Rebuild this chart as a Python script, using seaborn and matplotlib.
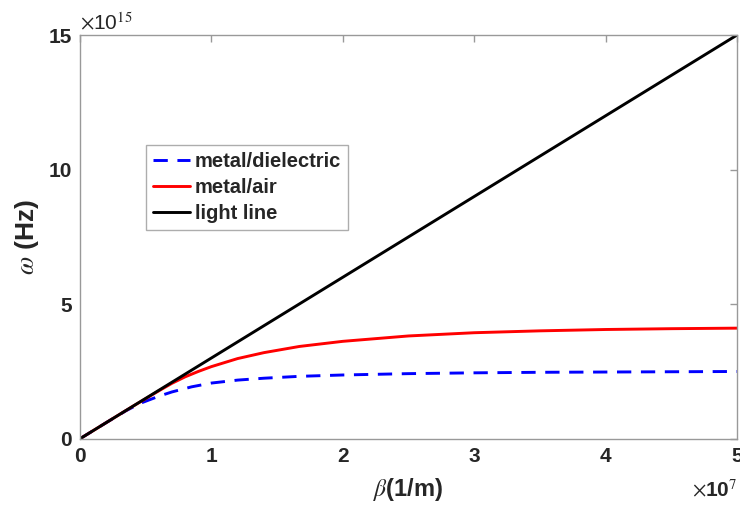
import pandas as pd
import seaborn as sns
import matplotlib.pyplot as plt

# beta in units of 1e7 (1/m), omega in units of 1e15 (Hz)
beta_md=[0,0.2,0.35,0.46,0.6,0.7,0.85,1.0,1.2,1.4,1.67,2.0,2.5,3.0,3.5,4.0,4.5,5.0]
omega_md=[0,0.6,1.04,1.32,1.58,1.74,1.93,2.07,2.18,2.25,2.32,2.37,2.42,2.45,2.47,2.48,2.49,2.5]

beta_ma=[0,0.2,0.4,0.6,0.7,0.8,0.9,1.0,1.2,1.4,1.67,2.0,2.5,3.0,3.5,4.0,4.5,5.0]
omega_ma=[0,0.6,1.2,1.78,2.06,2.3,2.5,2.68,2.98,3.2,3.43,3.62,3.82,3.94,4.01,4.06,4.09,4.11]

beta_light=[0,1,2,3,4,5]
omega_light=[0,3,6,9,12,15]

df=pd.concat([
    pd.DataFrame({'beta':beta_md,'omega':omega_md,'curve':'metal/dielectric'}),
    pd.DataFrame({'beta':beta_ma,'omega':omega_ma,'curve':'metal/air'}),
    pd.DataFrame({'beta':beta_light,'omega':omega_light,'curve':'light line'}),
])

sns.set_style('white')
plt.rcParams['font.family']=['Liberation Sans','DejaVu Sans']
plt.rcParams['mathtext.fontset']='stix'

fig=plt.figure(figsize=(7.4,5.15),dpi=100)
ax=fig.add_axes([0.108,0.148,0.888,0.784])

colors={'metal/dielectric':'#0000ff','metal/air':'#ff0000','light line':'#000000'}
sns.lineplot(data=df,x='beta',y='omega',hue='curve',style='curve',palette=colors,
             dashes={'metal/dielectric':(4.9,3.3),'metal/air':'','light line':''},
             linewidth=2.1,sort=False,estimator=None,ax=ax)

ax.set_xlim(0,5)
ax.set_ylim(0,15)
ax.set_xticks([0,1,2,3,4,5])
ax.set_yticks([0,5,10,15])
ax.tick_params(direction='in',length=5,width=1,color='#999999',top=True,right=True,
               labelsize=15,labelcolor='#262626',pad=6)
for lbl in ax.get_xticklabels()+ax.get_yticklabels():
    lbl.set_fontweight('bold')
for s in ax.spines.values():
    s.set_color('#999999')
    s.set_linewidth(1)

ax.set_xlabel(r'$\beta$(1/m)',fontsize=17,fontweight='bold',color='#262626',labelpad=7)
ax.set_ylabel(r'$\omega$ (Hz)',fontsize=19,fontweight='bold',color='#262626',labelpad=5)

ax.text(0.0,1.005,r'$\times$10$^{15}$',transform=ax.transAxes,fontsize=15,
        color='#262626',ha='left',va='bottom')
ax.text(1.0,-0.1,r'$\times$10$^{7}$',transform=ax.transAxes,fontsize=15,
        fontweight='bold',color='#262626',ha='right',va='top')

leg=ax.legend(loc='upper left',bbox_to_anchor=(0.1,0.728),fontsize=14.5,frameon=True,
              fancybox=False,handlelength=1.85,handletextpad=0.25,borderpad=0.35,
              labelspacing=0.35,borderaxespad=0)
leg.get_frame().set_edgecolor('#999999')
leg.get_frame().set_linewidth(1)
for t in leg.get_texts():
    t.set_fontweight('bold')
    t.set_color('#262626')

fig.savefig('out.png',dpi=100)
